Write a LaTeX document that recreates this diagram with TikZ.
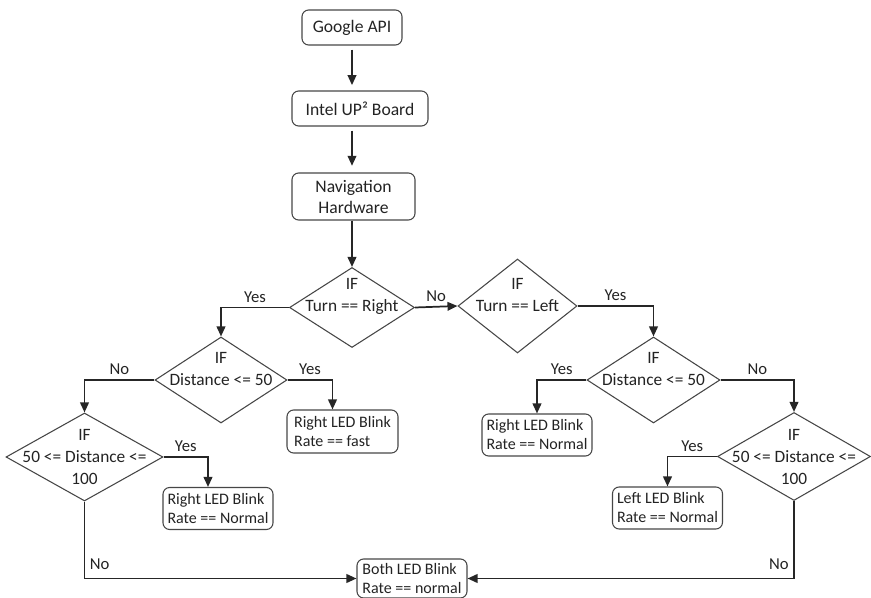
\documentclass[tikz,border=0pt]{standalone}
\usepackage{fontspec}
\setmainfont{Carlito}
\usepackage{tikz}
\usetikzlibrary{shapes.geometric, arrows.meta, positioning}
\definecolor{lineGray}{RGB}{70,70,70}
\definecolor{textGray}{RGB}{35,35,35}

\begin{document}
\begin{tikzpicture}[
    x=0.75pt, y=-0.75pt,
    box/.style={draw=lineGray, rounded corners=5pt, line width=0.8pt, align=center, text=textGray, font=\fontsize{13.2}{15.75}\selectfont, inner sep=2pt},
    ledbox/.style={draw=lineGray, rounded corners=5pt, line width=0.8pt, align=left, text=textGray, font=\fontsize{12}{14.25}\selectfont, minimum width=82.5pt, minimum height=31.5pt, inner sep=2pt},
    decision/.style={diamond, draw=lineGray, line width=0.8pt, inner sep=0pt},
    dtext/.style={align=center, text=textGray, font=\fontsize{13}{16.5}\selectfont},
    lbl/.style={text=textGray, font=\fontsize{12.5}{15}\selectfont},
    arrow/.style={-{Triangle[length=7.5pt, width=6.5pt]}, line width=1.3pt, draw=black!85}
]
\useasboundingbox (0,0) rectangle (871,598);

% Input chain
\node[box, minimum width=75pt, minimum height=26.25pt] (google) at (352,27.5) {Google API};
\node[box, minimum width=102pt, minimum height=26.25pt] (intel) at (360,108.5) {Intel UP² Board};
\node[box, minimum width=92.25pt, minimum height=35.25pt] (nav) at (353.5,196.5) {Navigation\\Hardware};

% Turn decisions
\node[decision, minimum width=93.75pt, minimum height=60pt, label={[dtext, yshift=8.25pt]center:IF\\Turn == Right}] (turnright) at (352,307.5) {};
\node[decision, minimum width=89.25pt, minimum height=70.5pt, label={[dtext, yshift=8.25pt]center:IF\\Turn == Left}] (turnleft) at (517.5,306) {};

% Right turn branch
\node[decision, minimum width=99pt, minimum height=64.5pt, label={[dtext, yshift=8.25pt]center:IF\\Distance <= 50}] (distright) at (221,380) {};
\node[decision, minimum width=117.75pt, minimum height=66pt, label={[dtext]center:IF\\50 <= Distance <=\\100}] (midright) at (84.5,457) {};
\node[ledbox, minimum width=83.25pt, minimum height=32.25pt] (rightfast) at (342.5,431.5) {Right LED Blink\\Rate == fast};
\node[ledbox] (rightnormA) at (218,508.5) {Right LED Blink\\Rate == Normal};

% Left turn branch
\node[decision, minimum width=99.75pt, minimum height=64.5pt, label={[dtext, yshift=8.25pt]center:IF\\Distance <= 50}] (distleft) at (653.5,380) {};
\node[decision, minimum width=114.75pt, minimum height=66pt, label={[dtext]center:IF\\50 <= Distance <=\\100}] (midleft) at (794,456.5) {};
\node[ledbox] (rightnormB) at (537,435) {Right LED Blink\\Rate == Normal};
\node[ledbox] (leftnorm) at (667.5,508) {Left LED Blink\\Rate == Normal};

% Fallback
\node[ledbox, minimum height=29.25pt] (both) at (412,578.5) {Both LED Blink\\Rate == normal};

% Arrows
\draw[arrow, shorten <=3pt, shorten >=4pt] (google) -- (intel.north -| google);
\draw[arrow, shorten <=3pt, shorten >=5pt] (intel.south -| google) -- (nav.north -| google);
\draw[arrow] (nav.south -| turnright) -- (turnright.north);
\draw[arrow] (turnright.east) -- (turnleft.west) node[lbl, midway, above] {No};
\draw[arrow] (turnright.west) -| (distright.north) node[lbl, pos=0.25, above] {Yes};
\draw[arrow] (turnleft.east) -| (distleft.north) node[lbl, pos=0.25, above] {Yes};
\draw[arrow] (distright.west) -| (midright.north) node[lbl, pos=0.25, above] {No};
\draw[arrow] (distright.east) -| ([xshift=-7.5pt]rightfast.north) node[lbl, pos=0.25, above] {Yes};
\draw[arrow] (midright.east) -| ([xshift=-7.5pt]rightnormA.north) node[lbl, pos=0.25, above] {Yes};
\draw[arrow] (midright.south) |- (both.west) node[lbl, pos=0.41, right] {No};
\draw[arrow] (distleft.west) -| (rightnormB.north) node[lbl, pos=0.25, above] {Yes};
\draw[arrow] (distleft.east) -| (midleft.north) node[lbl, pos=0.25, above] {No};
\draw[arrow] (midleft.west) -| (leftnorm.north) node[lbl, pos=0.25, above] {Yes};
\draw[arrow] (midleft.south) |- (both.east) node[lbl, pos=0.41, left] {No};

\end{tikzpicture}
\end{document}
